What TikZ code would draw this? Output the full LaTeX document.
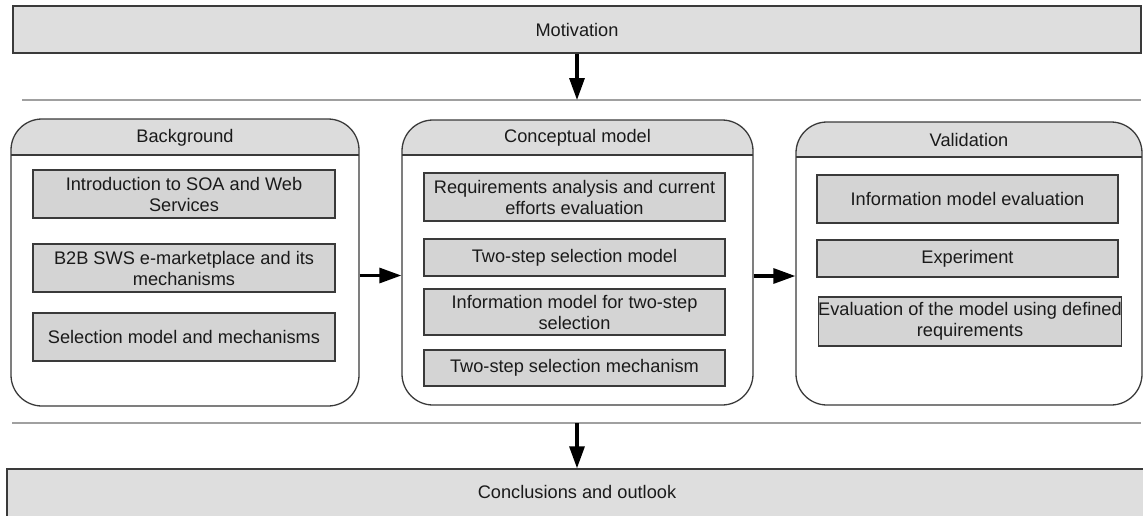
\documentclass[tikz,border=0pt]{standalone}
\usepackage{fontspec}
\setmainfont{Liberation Sans}
\usetikzlibrary{arrows.meta}
\definecolor{edge}{HTML}{3A3A3A}
\definecolor{ink}{HTML}{1A1A1A}
\definecolor{barfill}{HTML}{DEDEDE}
\definecolor{hdrfill}{HTML}{DCDCDC}
\definecolor{itemfill}{HTML}{D4D4D4}
\definecolor{rule}{HTML}{A0A0A0}
\tikzset{
  txt/.style={font=\fontsize{18.2}{21}\selectfont, text=ink, align=center},
  bar/.style={txt, draw=edge, line width=1.4pt, fill=barfill, inner sep=0pt},
  item/.style={txt, draw=edge, line width=1.3pt, fill=itemfill, inner sep=0pt},
  panel/.style={draw=edge, line width=1.3pt, rounded corners=31pt, fill=white, inner sep=0pt,
    path picture={
      \fill[hdrfill, sharp corners] (path picture bounding box.north west) rectangle ([yshift=-#1]path picture bounding box.north east);
      \draw[edge, line width=1.3pt, sharp corners] ([yshift=-#1]path picture bounding box.north west) -- ([yshift=-#1]path picture bounding box.north east);
    }},
  hdrtext/.style={txt, inner sep=0pt},
  sepline/.style={draw=rule, line width=1.2pt},
  arr/.style={line width=3.2pt, black, -{Triangle[width=15pt,length=22pt]}},
}
\begin{document}
\begin{tikzpicture}[x=1pt,y=-1pt]
\useasboundingbox (0,0) rectangle (1143,515);

% top and bottom bars
\node[bar, minimum width=1128pt, minimum height=47pt] (mot) at (577,29.5) {Motivation};
\node[bar, minimum width=1140pt, minimum height=61pt, text depth=0pt] (con) at (577,499.5) {};
\node[txt, inner sep=0pt] (conlbl) at (577,492) {Conclusions and outlook};

% separator rules
\coordinate (s1a) at (22,100);
\coordinate (s1b) at (1141,100);
\coordinate (s1m) at (577,100);
\coordinate (s2a) at (12,423);
\coordinate (s2b) at (1141,423);
\coordinate (s2m) at (577,423);
\draw[sepline] (s1a) -- (s1b);
\draw[sepline] (s2a) -- (s2b);

% three panels
\node[panel=36pt, minimum width=348pt, minimum height=287pt] (bg) at (185,262.5) {};
\node[panel=35pt, minimum width=351pt, minimum height=285pt] (cm) at (577.5,262.5) {};
\node[panel=35pt, minimum width=346pt, minimum height=283pt] (va) at (969,263.5) {};
\node[hdrtext] (bgh) at (185,137.5) {Background};
\node[hdrtext] (cmh) at (577.5,138) {Conceptual model};
\node[hdrtext] (vah) at (969,140) {Validation};

% Background items
\node[item, minimum width=302pt, minimum height=48pt] (bg1) at (184,194) {Introduction to SOA and Web\\Services};
\node[item, minimum width=302pt, minimum height=48pt] (bg2) at (184,268) {B2B SWS e-marketplace and its\\mechanisms};
\node[item, minimum width=302pt, minimum height=48pt] (bg3) at (184,337) {Selection model and mechanisms};

% Conceptual model items
\node[item, minimum width=301pt, minimum height=48pt] (cm1) at (574.5,197) {Requirements analysis and current\\efforts evaluation};
\node[item, minimum width=301pt, minimum height=37pt] (cm2) at (574.5,257.5) {Two-step selection model};
\node[item, minimum width=301pt, minimum height=46pt] (cm3) at (574.5,312) {Information model for two-step\\selection};
\node[item, minimum width=301pt, minimum height=36pt] (cm4) at (574.5,368) {Two-step selection mechanism};

% Validation items
\node[item, minimum width=301pt, minimum height=48pt] (va1) at (967.5,199) {Information model evaluation};
\node[item, minimum width=301pt, minimum height=37pt] (va2) at (967.5,258.5) {Experiment};
\node[item, minimum width=302pt, minimum height=49pt] (va3) at (970,321.5) {Evaluation of the model using defined\\requirements};

% flow arrows
\draw[arr] (mot.south) -- (s1m);
\draw[arr] (s2m) -- (con.north);
\draw[arr] ([yshift=-13pt]bg.east) -- ([yshift=-13pt]cm.west);
\draw[arr] ([yshift=-13.5pt]cm.east) -- ([yshift=-12.5pt]va.west);
\end{tikzpicture}
\end{document}
